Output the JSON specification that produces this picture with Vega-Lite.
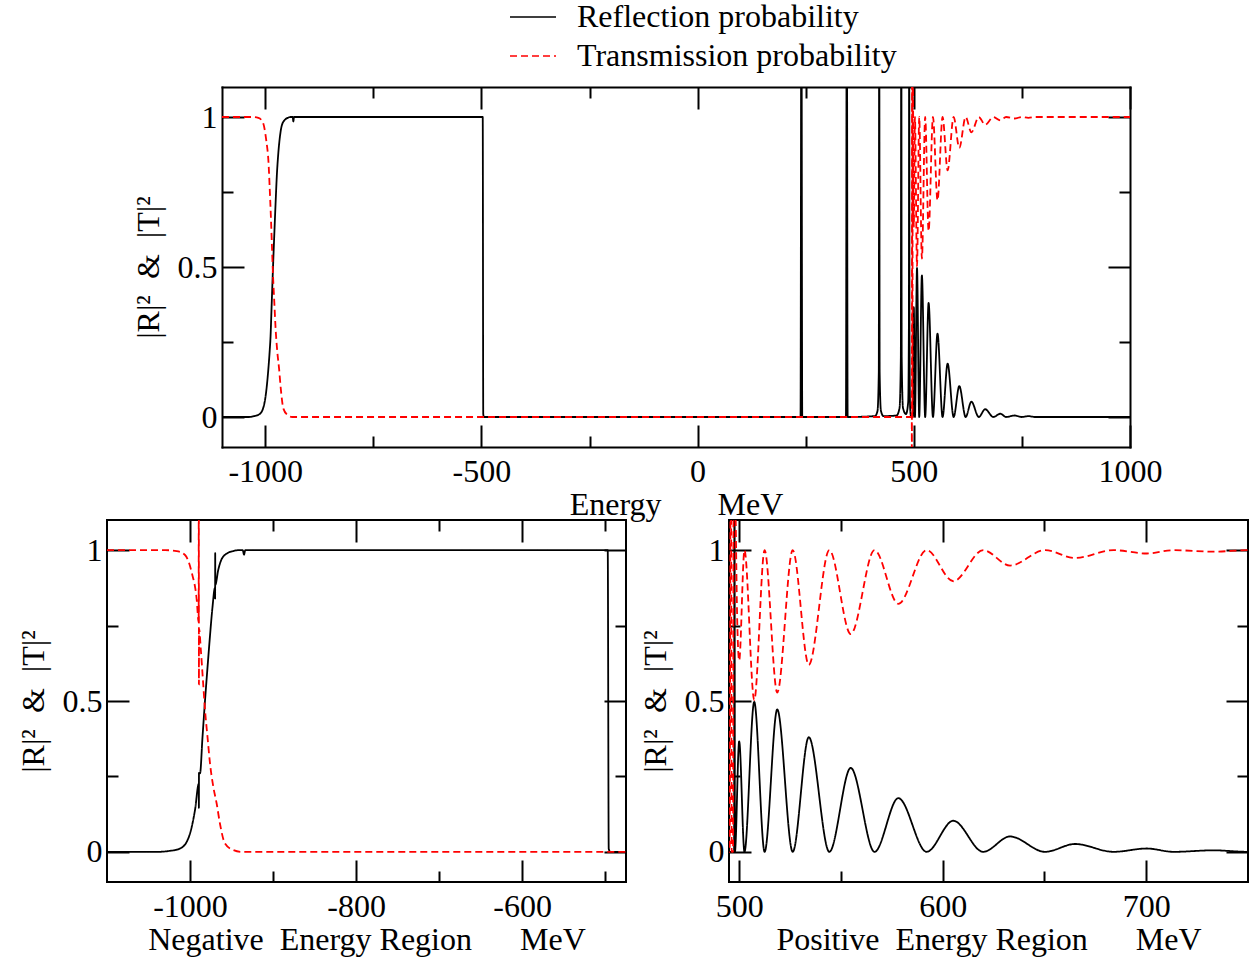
{
"$schema": "https://vega.github.io/schema/vega-lite/v6.json",
"background": "white",
"padding": {"left": 16, "top": 0, "right": 2, "bottom": 2},
"spacing": -3,
"datasets": {
"refl": [
{"e":-1100,"p":0},{"e":-1040,"p":0},{"e":-1025,"p":0.003},{"e":-1012,"p":0.011},{"e":-1002,"p":0.045},{"e":-994,"p":0.139},{"e":-989.5,"p":0.225},
{"e":-989.35,"p":0.146,"only":"left"},{"e":-989.25,"p":0.262,"only":"left"},
{"e":-988,"p":0.26},{"e":-985,"p":0.38},{"e":-982,"p":0.5},{"e":-979,"p":0.61},{"e":-976,"p":0.715},{"e":-973,"p":0.81},{"e":-970,"p":0.875},
{"e":-969.8,"p":0.84,"only":"left"},{"e":-969.7,"p":0.99,"only":"left"},{"e":-969.6,"p":0.885,"only":"left"},
{"e":-966,"p":0.935},{"e":-962,"p":0.97},{"e":-955,"p":0.99},{"e":-948,"p":0.997},{"e":-942,"p":1},{"e":-936.5,"p":1},{"e":-935,"p":0.985},{"e":-933.5,"p":1},{"e":-600,"p":1},{"e":-497,"p":1},{"e":-495.8,"p":0.01},{"e":-494,"p":0},
{"e":238,"p":0},{"e":240,"p":1.6},{"e":242,"p":0},{"e":343,"p":0},{"e":345,"p":1.6},{"e":347,"p":0},
{"e":410,"p":0.003},{"e":416,"p":0.02},{"e":419,"p":0.15},{"e":420,"p":1.6},{"e":421,"p":0.15},{"e":424,"p":0.02},{"e":430,"p":0.003},
{"e":460,"p":0.005},{"e":467,"p":0.03},{"e":470,"p":0.2},{"e":471,"p":1.6},{"e":472,"p":0.2},{"e":475,"p":0.03},{"e":482,"p":0.01},
{"e":487,"p":0.05},{"e":488.6,"p":0.3},{"e":489.3,"p":1.6},{"e":490,"p":0.3},{"e":491.5,"p":0.03},{"e":494,"p":0},
{"e":497.5,"p":0},{"e":497.7,"p":1.6,"only":"right"},{"e":497.9,"p":0},
{"e":500,"p":0.366},{"e":502.6,"p":0},{"e":507.4,"p":0.497},{"e":512.5,"p":0},{"e":518.7,"p":0.472},{"e":526.3,"p":0},{"e":534.2,"p":0.38},{"e":544.3,"p":0},{"e":554.8,"p":0.278},{"e":566.5,"p":0},{"e":578.2,"p":0.178},{"e":592.1,"p":0},{"e":605.2,"p":0.103},{"e":619.9,"p":0},{"e":633.1,"p":0.051},{"e":650.3,"p":0},{"e":665,"p":0.026},{"e":683.9,"p":0},{"e":700.3,"p":0.011},{"e":713.4,"p":0},{"e":733,"p":0.005},{"e":750,"p":0},{"e":765,"p":0.003},{"e":780,"p":0},{"e":1000,"p":0}
],
"trans": [
{"e":-1100,"p":1},{"e":-1030,"p":1},{"e":-1016,"p":0.997},{"e":-1006,"p":0.984},{"e":-998,"p":0.926},{"e":-992,"p":0.837},{"e":-989.6,"p":0.76},
{"e":-989.45,"p":1.6,"only":"left"},{"e":-989.3,"p":0.555,"only":"left"},{"e":-989.15,"p":0.74,"only":"left"},
{"e":-987,"p":0.67},{"e":-984.5,"p":0.57},{"e":-982,"p":0.471},{"e":-979,"p":0.382},{"e":-976,"p":0.294},{"e":-972,"p":0.216},{"e":-968,"p":0.161},{"e":-964,"p":0.094},{"e":-958,"p":0.028},{"e":-948,"p":0.006},{"e":-938,"p":0},
{"e":495.3,"p":0},{"e":495.5,"p":-0.6,"only":"top"},{"e":495.9,"p":1.6},{"e":496.3,"p":0},{"e":497,"p":0},{"e":497.3,"p":1.6},{"e":498.2,"p":1.15},{"e":499.1,"p":0.75},
{"e":500,"p":0.634},{"e":502.6,"p":1},{"e":507.4,"p":0.503},{"e":512.5,"p":1},{"e":518.7,"p":0.528},{"e":526.3,"p":1},{"e":534.2,"p":0.62},{"e":544.3,"p":1},{"e":554.8,"p":0.722},{"e":566.5,"p":1},{"e":578.2,"p":0.822},{"e":592.1,"p":1},{"e":605.2,"p":0.897},{"e":619.9,"p":1},{"e":633.1,"p":0.949},{"e":650.3,"p":1},{"e":665,"p":0.974},{"e":683.9,"p":1},{"e":700.3,"p":0.989},{"e":713.4,"p":1},{"e":733,"p":0.995},{"e":750,"p":1},{"e":765,"p":0.997},{"e":780,"p":1},{"e":1000,"p":1}
]
},
"vconcat": [
{
"width": 1023, "height": 360,
"view": {"stroke": null},
"layer": [
{
"data": {"name": "refl"},
"transform": [{"filter": "datum.only == null || datum.only == 'top'"}],
"mark": {"type": "line", "clip": true, "interpolate": "monotone", "strokeWidth": 1.8},
"encoding": {
"x": {"field": "e", "type": "quantitative", "scale": {"domain": [-1100, 1000], "range": [115, 1023], "nice": false, "zero": false},
"axis": {"orient": "bottom", "values": [-1000, -500, 0, 500, 1000], "tickSize": -22, "labelPadding": 31, "labelExpr": "datum.value < 0 ? '-' + abs(datum.value) : '' + datum.value", "title": "Energy\u00a0\u00a0\u00a0\u00a0\u00a0\u00a0\u00a0MeV", "titlePadding": 2, "domain": true, "domainColor": "black", "domainWidth": 2, "domainCap": "square"}},
"y": {"field": "p", "type": "quantitative", "scale": {"domain": [-0.1, 1.1], "nice": false, "zero": false},
"axis": {"orient": "left", "offset": -115, "values": [0, 0.5, 1], "tickSize": -22, "labelPadding": 27, "labelExpr": "'' + datum.value", "title": "|R|\u00b2\u00a0 & \u00a0|T|\u00b2", "titlePadding": 12, "domain": true, "domainColor": "black", "domainWidth": 2, "domainCap": "square"}},
"stroke": {"datum": "Reflection probability", "type": "nominal", "scale": {"domain": ["Reflection probability", "Transmission probability"], "range": ["black", "red"]},
"legend": {"orient": "none", "legendX": 402, "legendY": -87, "title": null, "symbolType": "stroke", "symbolSize": 2116, "symbolStrokeWidth": 1.6, "labelFont": "Liberation Serif", "labelFontSize": 32, "labelColor": "black", "labelOffset": 20, "labelLimit": 600, "clipHeight": 34, "rowPadding": 5, "padding": 0}},
"strokeDash": {"datum": "Reflection probability", "type": "nominal", "scale": {"domain": ["Reflection probability", "Transmission probability"], "range": [[1, 0], [7, 4]]},
"legend": {"orient": "none", "legendX": 402, "legendY": -87, "title": null, "symbolType": "stroke", "symbolSize": 2116, "symbolStrokeWidth": 1.6, "labelFont": "Liberation Serif", "labelFontSize": 32, "labelColor": "black", "labelOffset": 20, "labelLimit": 600, "clipHeight": 34, "rowPadding": 5, "padding": 0}}
}
},
{
"data": {"name": "trans"},
"transform": [{"filter": "datum.only == null || datum.only == 'top'"}],
"mark": {"type": "line", "clip": true, "interpolate": "monotone", "strokeWidth": 1.8},
"encoding": {
"x": {"field": "e", "type": "quantitative", "scale": {"domain": [-1100, 1000], "range": [115, 1023], "nice": false, "zero": false},
"axis": {"orient": "bottom", "values": [-750, -250, 250, 750], "tickSize": -11, "labels": false, "title": null}},
"y": {"field": "p", "type": "quantitative", "scale": {"domain": [-0.1, 1.1], "nice": false, "zero": false},
"axis": {"orient": "left", "offset": -115, "values": [0.25, 0.75], "tickSize": -11, "labels": false, "title": null}},
"stroke": {"datum": "Transmission probability", "type": "nominal"},
"strokeDash": {"datum": "Transmission probability", "type": "nominal"}
}
},
{
"data": {"values": [{"e": 0, "p": 0.5}]},
"mark": {"type": "point", "opacity": 0},
"encoding": {
"x": {"field": "e", "type": "quantitative", "axis": {"orient": "top", "values": [-1000, -500, 0, 500, 1000], "tickSize": -22, "labels": false, "title": null, "domain": true, "domainColor": "black", "domainWidth": 2, "domainCap": "square"}},
"y": {"field": "p", "type": "quantitative", "axis": {"orient": "right", "values": [0, 0.5, 1], "tickSize": -22, "labels": false, "title": null, "domain": true, "domainColor": "black", "domainWidth": 2, "domainCap": "square"}}
}
},
{
"data": {"values": [{"e": 0, "p": 0.5}]},
"mark": {"type": "point", "opacity": 0},
"encoding": {
"x": {"field": "e", "type": "quantitative", "axis": {"orient": "top", "values": [-750, -250, 250, 750], "tickSize": -11, "labels": false, "title": null}},
"y": {"field": "p", "type": "quantitative", "axis": {"orient": "right", "values": [0.25, 0.75], "tickSize": -11, "labels": false, "title": null}}
}
}
],
"resolve": {"axis": {"x": "independent", "y": "independent"}}
},
{
"hconcat": [
{
"width": 519, "height": 362,
"layer": [
{
"data": {"name": "refl"},
"transform": [{"filter": "datum.only == null || datum.only == 'left'"}],
"mark": {"type": "line", "clip": true, "interpolate": "monotone", "strokeWidth": 1.8},
"encoding": {
"x": {"field": "e", "type": "quantitative", "scale": {"domain": [-1100, -475], "nice": false, "zero": false},
"axis": {"orient": "bottom", "values": [-1000, -800, -600], "tickSize": -22, "labelPadding": 31, "labelExpr": "datum.value < 0 ? '-' + abs(datum.value) : '' + datum.value", "title": "Negative\u00a0\u00a0Energy Region\u00a0\u00a0\u00a0\u00a0\u00a0\u00a0MeV", "titlePadding": 2}},
"y": {"field": "p", "type": "quantitative", "scale": {"domain": [-0.1, 1.1], "nice": false, "zero": false},
"axis": {"orient": "left", "values": [0, 0.5, 1], "tickSize": -22, "labelPadding": 27, "labelExpr": "'' + datum.value", "title": "|R|\u00b2\u00a0 & \u00a0|T|\u00b2", "titlePadding": 12}},
"stroke": {"datum": "Reflection probability", "type": "nominal", "scale": {"domain": ["Reflection probability", "Transmission probability"], "range": ["black", "red"]}, "legend": null},
"strokeDash": {"datum": "Reflection probability", "type": "nominal", "scale": {"domain": ["Reflection probability", "Transmission probability"], "range": [[1, 0], [7, 4]]}, "legend": null}
}
},
{
"data": {"name": "trans"},
"transform": [{"filter": "datum.only == null || datum.only == 'left'"}],
"mark": {"type": "line", "clip": true, "interpolate": "monotone", "strokeWidth": 1.8},
"encoding": {
"x": {"field": "e", "type": "quantitative", "scale": {"domain": [-1100, -475], "nice": false, "zero": false},
"axis": {"orient": "bottom", "values": [-900, -700, -500], "tickSize": -11, "labels": false, "title": null}},
"y": {"field": "p", "type": "quantitative", "scale": {"domain": [-0.1, 1.1], "nice": false, "zero": false},
"axis": {"orient": "left", "values": [0.25, 0.75], "tickSize": -11, "labels": false, "title": null}},
"stroke": {"datum": "Transmission probability", "type": "nominal", "legend": null},
"strokeDash": {"datum": "Transmission probability", "type": "nominal", "legend": null}
}
},
{
"data": {"values": [{"e": -800, "p": 0.5}]},
"mark": {"type": "point", "opacity": 0},
"encoding": {
"x": {"field": "e", "type": "quantitative", "axis": {"orient": "top", "values": [-1000, -800, -600], "tickSize": -22, "labels": false, "title": null}},
"y": {"field": "p", "type": "quantitative", "axis": {"orient": "right", "values": [0, 0.5, 1], "tickSize": -22, "labels": false, "title": null}}
}
},
{
"data": {"values": [{"e": -800, "p": 0.5}]},
"mark": {"type": "point", "opacity": 0},
"encoding": {
"x": {"field": "e", "type": "quantitative", "axis": {"orient": "top", "values": [-900, -700, -500], "tickSize": -11, "labels": false, "title": null}},
"y": {"field": "p", "type": "quantitative", "axis": {"orient": "right", "values": [0.25, 0.75], "tickSize": -11, "labels": false, "title": null}}
}
}
],
"resolve": {"axis": {"x": "independent", "y": "independent"}}
},
{
"width": 519, "height": 362,
"layer": [
{
"data": {"name": "refl"},
"transform": [{"filter": "datum.only == null || datum.only == 'right'"}],
"mark": {"type": "line", "clip": true, "interpolate": "monotone", "strokeWidth": 1.8},
"encoding": {
"x": {"field": "e", "type": "quantitative", "scale": {"domain": [495, 750], "nice": false, "zero": false},
"axis": {"orient": "bottom", "values": [500, 600, 700], "tickSize": -22, "labelPadding": 31, "labelExpr": "'' + datum.value", "title": "Positive\u00a0\u00a0Energy Region\u00a0\u00a0\u00a0\u00a0\u00a0\u00a0MeV", "titlePadding": 2}},
"y": {"field": "p", "type": "quantitative", "scale": {"domain": [-0.1, 1.1], "nice": false, "zero": false},
"axis": {"orient": "left", "values": [0, 0.5, 1], "tickSize": -22, "labelPadding": 27, "labelExpr": "'' + datum.value", "title": "|R|\u00b2\u00a0 & \u00a0|T|\u00b2", "titlePadding": 12}},
"stroke": {"datum": "Reflection probability", "type": "nominal", "scale": {"domain": ["Reflection probability", "Transmission probability"], "range": ["black", "red"]}, "legend": null},
"strokeDash": {"datum": "Reflection probability", "type": "nominal", "scale": {"domain": ["Reflection probability", "Transmission probability"], "range": [[1, 0], [7, 4]]}, "legend": null}
}
},
{
"data": {"name": "trans"},
"transform": [{"filter": "datum.only == null || datum.only == 'right'"}],
"mark": {"type": "line", "clip": true, "interpolate": "monotone", "strokeWidth": 1.8},
"encoding": {
"x": {"field": "e", "type": "quantitative", "scale": {"domain": [495, 750], "nice": false, "zero": false},
"axis": {"orient": "bottom", "values": [550, 650], "tickSize": -11, "labels": false, "title": null}},
"y": {"field": "p", "type": "quantitative", "scale": {"domain": [-0.1, 1.1], "nice": false, "zero": false},
"axis": {"orient": "left", "values": [0.25, 0.75], "tickSize": -11, "labels": false, "title": null}},
"stroke": {"datum": "Transmission probability", "type": "nominal", "legend": null},
"strokeDash": {"datum": "Transmission probability", "type": "nominal", "legend": null}
}
},
{
"data": {"values": [{"e": 600, "p": 0.5}]},
"mark": {"type": "point", "opacity": 0},
"encoding": {
"x": {"field": "e", "type": "quantitative", "axis": {"orient": "top", "values": [500, 600, 700], "tickSize": -22, "labels": false, "title": null}},
"y": {"field": "p", "type": "quantitative", "axis": {"orient": "right", "values": [0, 0.5, 1], "tickSize": -22, "labels": false, "title": null}}
}
},
{
"data": {"values": [{"e": 600, "p": 0.5}]},
"mark": {"type": "point", "opacity": 0},
"encoding": {
"x": {"field": "e", "type": "quantitative", "axis": {"orient": "top", "values": [550, 650], "tickSize": -11, "labels": false, "title": null}},
"y": {"field": "p", "type": "quantitative", "axis": {"orient": "right", "values": [0.25, 0.75], "tickSize": -11, "labels": false, "title": null}}
}
}
],
"resolve": {"axis": {"x": "independent", "y": "independent"}}
}
],
"spacing": 10
}
],
"resolve": {"scale": {"stroke": "independent", "strokeDash": "independent"}},
"config": {
"font": "Liberation Serif",
"view": {"stroke": "black", "strokeWidth": 2},
"axis": {"domain": false, "grid": false, "tickColor": "black", "tickWidth": 2, "labelFont": "Liberation Serif", "labelFontSize": 32, "labelColor": "black", "titleFont": "Liberation Serif", "titleFontSize": 32, "titleFontWeight": "normal", "titleColor": "black", "labelFlush": false, "labelOverlap": false}
}
}
